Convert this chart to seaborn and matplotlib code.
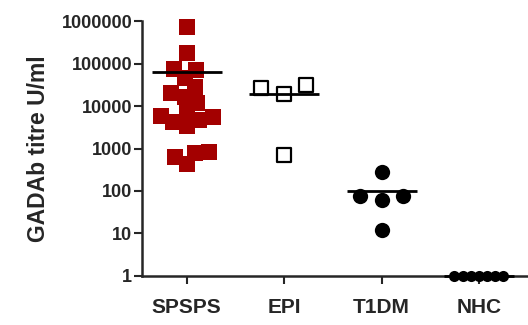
import matplotlib
matplotlib.use('Agg')
import matplotlib.pyplot as plt
import pandas as pd
import seaborn as sns

groups = ['SPSPS', 'EPI', 'T1DM', 'NHC']
spsps = [720000, 180000, 74000, 71000, 47000, 28000, 20500, 16600, 11700,
         7200, 5900, 4200, 5600, 4700, 3400, 780, 830, 630, 430]
epi = [26000, 19000, 31000, 700]
t1dm = [280, 75, 60, 75, 12]
nhc = [1, 1, 1, 1, 1, 1, 1]

df = pd.DataFrame({
    'group': ['SPSPS'] * len(spsps) + ['EPI'] * len(epi) + ['T1DM'] * len(t1dm) + ['NHC'] * len(nhc),
    'titre': spsps + epi + t1dm + nhc,
})

sns.set_style('ticks')
plt.rcParams['font.family'] = ['Liberation Sans', 'DejaVu Sans']
plt.rcParams['font.weight'] = 'bold'

fig = plt.figure(figsize=(5.28, 3.25), dpi=100)
ax = fig.add_axes([0.269, 0.151, 0.731, 0.784])

# mean lines (arithmetic mean, computed before log scale is set)
sns.pointplot(data=df, x='group', y='titre', order=groups, estimator='mean',
              errorbar=None, color='black', marker='_', linestyle='none',
              markersize=50, markeredgewidth=2, ax=ax)
for l in ax.lines:
    l.set_zorder(5)

ax.set_yscale('log')

# swarm layout is computed with a smaller "packing" size, then markers are
# shown at their real size so they overlap like the original
styles = [
    ('SPSPS', dict(marker='s', color='#A30000', linewidth=0), 9.7, 11.5),
    ('EPI', dict(marker='s', color='white', edgecolor='black', linewidth=1.6), 15, 10),
    ('T1DM', dict(marker='o', color='black', linewidth=0), 15, 11),
    ('NHC', dict(marker='o', color='black', linewidth=0), 5.6, 8),
]
swarms = []
for g, kw, pack, shown in styles:
    n = len(ax.collections)
    sns.swarmplot(data=df[df.group == g], x='group', y='titre', order=groups,
                  size=pack, ax=ax, zorder=3, **kw)
    swarms.append((ax.collections[n:], shown))

ax.set_ylim(1, 1000000)
ax.set_xlim(-0.459, 3.504)
ax.set_yticks([1, 10, 100, 1000, 10000, 100000, 1000000])
ax.set_yticklabels(['1', '10', '100', '1000', '10000', '100000', '1000000'])
ax.minorticks_off()
ax.tick_params(axis='y', which='both', labelsize=13, width=1.5, length=6, pad=1)
ax.tick_params(axis='x', labelsize=15, width=1.5, length=6, pad=10)
for lab in ax.get_xticklabels() + ax.get_yticklabels():
    lab.set_fontweight('bold')

ax.set_xlabel('')
ax.set_ylabel('GADAb titre U/ml', fontsize=16.5, fontweight='bold', labelpad=8)
sns.despine(ax=ax)
ax.spines['left'].set_linewidth(1.8)
ax.spines['bottom'].set_linewidth(1.8)

fig.canvas.draw()
for cols, shown in swarms:
    for c in cols:
        if 'draw' in c.__dict__:
            del c.draw
        c.set_sizes([shown ** 2])
        c.set_clip_on(False)
for l in ax.lines:
    l.set_clip_on(False)

fig.savefig('out.png', dpi=100)
